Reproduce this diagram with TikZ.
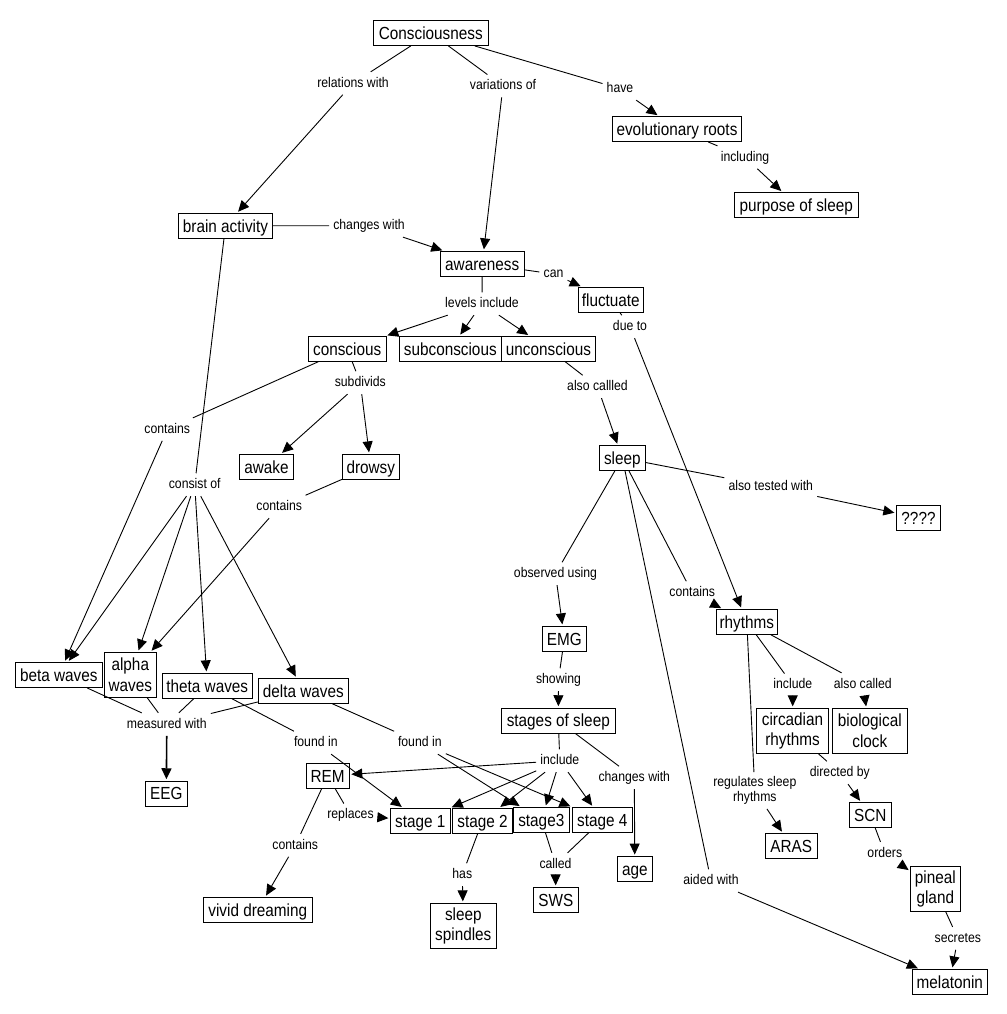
\documentclass[tikz,border=0pt]{standalone}
\usepackage{fontspec}
\setmainfont{Liberation Sans}
\newfontfamily\cmapfont[FakeStretch=0.875]{Liberation Sans}
\usetikzlibrary{arrows.meta}
\begin{document}
\begin{tikzpicture}[x=1pt,y=-1pt,
  concept/.style={draw, line width=0.9pt, inner xsep=2pt, inner ysep=0pt,
    font=\cmapfont\fontsize{17.5}{20}\selectfont, text height=16.5pt, text depth=4pt, minimum height=25pt},
  concepttwo/.style={draw, line width=0.9pt, inner xsep=2pt, inner ysep=0pt,
    font=\cmapfont\fontsize{17.5}{20.3}\selectfont, align=center, minimum height=45pt},
  lnk/.style={font=\cmapfont\fontsize{14}{15.5}\selectfont, inner xsep=4pt, inner ysep=4.5pt,
    text height=10.5pt, text depth=3pt},
  lnktwo/.style={font=\cmapfont\fontsize{14}{15.5}\selectfont, inner xsep=4pt, inner ysep=4pt, align=center},
  con/.style={line width=0.9pt},
  arr/.style={line width=0.9pt, -{Triangle[length=11pt,width=10pt]}, shorten >=1.5pt},
]
\fill[white] (0,0) rectangle (1006,1014);
\useasboundingbox (0,0) rectangle (1006,1014);

% concepts
\node[concept, minimum width=115pt]   (cons)      at (430.8,33)    {Consciousness};
\node[concept, minimum width=128.6pt] (evo)       at (677,129)     {evolutionary roots};
\node[concept, minimum width=124pt]   (purpose)   at (796.3,205)   {purpose of sleep};
\node[concept, minimum width=94.4pt]  (brain)     at (225.5,225.8) {brain activity};
\node[concept, minimum width=84.3pt]  (aware)     at (482.2,263.8) {awareness};
\node[concept, minimum width=65pt]    (fluct)     at (610.8,299.8) {fluctuate};
\node[concept, minimum width=77.7pt]  (conscious) at (347.2,348.8) {conscious};
\node[concept, minimum width=102pt]   (subcon)    at (450.3,348.8) {subconscious};
\node[concept, minimum width=94.4pt]  (uncon)     at (548.5,348.8) {unconscious};
\node[concept, minimum width=54.4pt]  (awake)     at (266.5,466.8) {awake};
\node[concept, minimum width=57pt]    (drowsy)    at (370.8,466.8) {drowsy};
\node[concept, minimum width=46pt]    (sleep)     at (622.3,458)   {sleep};
\node[concept, minimum width=44.4pt]  (qqqq)      at (918.5,517.8) {????};
\node[concept, minimum width=44pt]    (emg)       at (564.3,638.8) {EMG};
\node[concept, minimum width=61pt]    (rhythms)   at (746.8,621.8) {rhythms};
\node[concept, minimum width=87pt]    (beta)      at (58.8,675)    {beta waves};
\node[concepttwo, minimum width=52pt] (alpha)     at (130.3,674.8) {alpha\\waves};
\node[concept, minimum width=90pt]    (theta)     at (207.3,685.8) {theta waves};
\node[concept, minimum width=90pt]    (delta)     at (303.3,690.8) {delta waves};
\node[concept, minimum width=114pt]   (sos)       at (558.3,720.7) {stages of sleep};
\node[concepttwo, minimum width=72.4pt] (circ)    at (792.5,730.8) {circadian\\rhythms};
\node[concepttwo, minimum width=75pt] (bio)       at (869.8,730.8) {biological\\clock};
\node[concept, minimum width=42pt]    (eeg)       at (166.3,793.7) {EEG};
\node[concept, minimum width=43.3pt]  (rem)       at (327.7,775.8) {REM};
\node[concept, minimum width=60pt]    (st1)       at (420.3,820.8) {stage 1};
\node[concept, minimum width=60.4pt]  (st2)       at (482.5,820.8) {stage 2};
\node[concept, minimum width=56pt]    (st3)       at (541.3,819.8) {stage3};
\node[concept, minimum width=60pt]    (st4)       at (602.3,819.8) {stage 4};
\node[concept, minimum width=42pt]    (scn)       at (870.3,815)   {SCN};
\node[concept, minimum width=52pt]    (aras)      at (791.3,845.8) {ARAS};
\node[concept, minimum width=35pt]    (age)       at (634.8,869)   {age};
\node[concepttwo, minimum width=50pt] (pineal)    at (935.3,888.8) {pineal\\gland};
\node[concept, minimum width=45pt]    (sws)       at (555.8,899.8) {SWS};
\node[concepttwo, minimum width=66pt] (spindles)  at (463.3,925.8) {sleep\\spindles};
\node[concept, minimum width=109pt]   (vivid)     at (257.8,909.8) {vivid dreaming};
\node[concept, minimum width=75pt]    (melatonin) at (949.8,981.8) {melatonin};

% linking phrases
\node[lnk] (lrel)     at (353,83.3)    {relations with};
\node[lnk] (lvar)     at (503,86)      {variations of};
\node[lnk] (lhave)    at (620,88.7)    {have};
\node[lnk] (lincl)    at (745,157.3)   {including};
\node[lnk] (lchg)     at (369,225.7)   {changes with};
\node[lnk] (lcan)     at (553.5,274)   {can};
\node[lnk] (llev)     at (482,303.7)   {levels include};
\node[lnk] (ldue)     at (630,326.7)   {due to};
\node[lnk] (lsub)     at (360.3,382.7) {subdivids};
\node[lnk] (lalso)    at (597.5,386.7) {also callled};
\node[lnk] (lcont1)   at (167.3,429.3) {contains};
\node[lnk] (lconsist) at (194.7,484.7) {consist of};
\node[lnk] (lcont2)   at (279.3,506.7) {contains};
\node[lnk] (ltest)    at (770.8,486.7) {also tested with};
\node[lnk] (lobs)     at (555.5,573.7) {observed using};
\node[lnk] (lcont3)   at (692.2,592.7) {contains};
\node[lnk] (lshow)    at (558.5,679.7) {showing};
\node[lnk] (linc2)    at (792.8,685)   {include};
\node[lnk] (lacalled) at (862.8,684.3) {also called};
\node[lnk] (lmeas)    at (166.8,724.3) {measured with};
\node[lnk] (lfound1)  at (315.8,742.7) {found in};
\node[lnk] (lfound2)  at (419.8,742.7) {found in};
\node[lnk] (linclude) at (559.8,760.7) {include};
\node[lnk] (ldir)     at (839.8,772.7) {directed by};
\node[lnk] (lchg2)    at (634.3,777.7) {changes with};
\node[lnktwo] (lreg)  at (754.8,790.5) {regulates sleep\\rhythms};
\node[lnk] (lrepl)    at (350.5,815)   {replaces};
\node[lnk] (lcont4)   at (295.3,845.3) {contains};
\node[lnk] (lorders)  at (884.8,853.3) {orders};
\node[lnk] (lcalled)  at (555.5,864.3) {called};
\node[lnk] (lhas)     at (462.3,874.7) {has};
\node[lnk] (laided)   at (711,880.7)   {aided with};
\node[lnk] (lsecr)    at (957.8,938.3) {secretes};

% connections
\draw[con] (cons) -- (lrel);   \draw[arr] (lrel) -- (brain);
\draw[con] (cons) -- (lvar);   \draw[arr] (lvar) -- (aware);
\draw[con] (cons) -- (lhave);  \draw[arr] (lhave) -- (evo);
\draw[con] (evo) -- (lincl);   \draw[arr] (lincl) -- (purpose);
\draw[con] (brain) -- (lchg);  \draw[arr] (lchg) -- (aware);
\draw[con] (aware) -- (lcan);  \draw[arr] (lcan) -- (fluct);
\draw[con] (aware) -- (llev);
\draw[arr] (llev) -- (conscious);
\draw[arr] (llev) -- (subcon);
\draw[arr] (llev) -- (uncon);
\draw[con] (fluct) -- (ldue);  \draw[arr] (ldue) -- (rhythms);
\draw[con] (conscious) -- (lsub);
\draw[arr] (lsub) -- (awake);
\draw[arr] (lsub) -- (drowsy);
\draw[con] (conscious) -- (lcont1); \draw[arr] (lcont1) -- (beta);
\draw[con] (drowsy) -- (lcont2);    \draw[arr] (lcont2) -- (alpha);
\draw[con] (brain) -- (lconsist);
\draw[arr] (lconsist) -- (beta);
\draw[arr] (lconsist) -- (alpha);
\draw[arr] (lconsist) -- (theta);
\draw[arr] (lconsist) -- (delta);
\draw[con] (uncon) -- (lalso); \draw[arr] (lalso) -- (sleep);
\draw[con] (sleep) -- (ltest); \draw[arr] (ltest) -- (qqqq);
\draw[con] (sleep) -- (lobs);  \draw[arr] (lobs) -- (emg);
\draw[con] (sleep) -- (lcont3); \draw[arr] (lcont3) -- (rhythms);
\draw[con] (sleep) -- (laided); \draw[arr] (laided) -- (melatonin);
\draw[con] (emg) -- (lshow);   \draw[arr] (lshow) -- (sos);
\draw[con] (sos) -- (linclude);
\draw[arr] (linclude) -- (rem);
\draw[arr] (linclude) -- (st1);
\draw[arr] (linclude) -- (st2);
\draw[arr] (linclude) -- (st3);
\draw[arr] (linclude) -- (st4);
\draw[con] (sos) -- (lchg2);   \draw[arr] (lchg2) -- (age);
\draw[con] (beta) -- (lmeas);
\draw[con] (alpha) -- (lmeas);
\draw[con] (theta) -- (lmeas);
\draw[con] (delta) -- (lmeas);
\draw[arr, line width=1.6pt] (lmeas) -- (eeg);
\draw[con] (theta) -- (lfound1); \draw[arr] (lfound1) -- (st1);
\draw[con] (delta) -- (lfound2);
\draw[arr] (lfound2) -- (st3);
\draw[arr] (lfound2) -- (st4);
\draw[con] (rem) -- (lrepl);   \draw[arr] (lrepl) -- (st1);
\draw[con] (rem) -- (lcont4);  \draw[arr] (lcont4) -- (vivid);
\draw[con] (st2) -- (lhas);    \draw[arr] (lhas) -- (spindles);
\draw[con] (st3) -- (lcalled);
\draw[con] (st4) -- (lcalled);
\draw[arr] (lcalled) -- (sws);
\draw[con] (rhythms) -- (linc2);    \draw[arr] (linc2) -- (circ);
\draw[con] (rhythms) -- (lacalled); \draw[arr] (lacalled) -- (bio);
\draw[con] (rhythms) -- (lreg);     \draw[arr] (lreg) -- (aras);
\draw[con] (circ) -- (ldir);    \draw[arr] (ldir) -- (scn);
\draw[con] (scn) -- (lorders);  \draw[arr] (lorders) -- (pineal);
\draw[con] (pineal) -- (lsecr); \draw[arr] (lsecr) -- (melatonin);
\end{tikzpicture}
\end{document}
